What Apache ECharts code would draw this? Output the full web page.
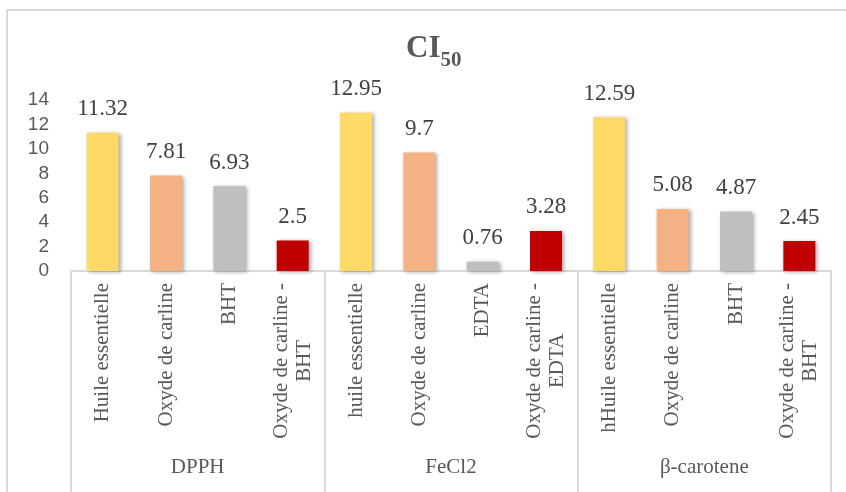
<!DOCTYPE html>
<html>
<head>
<meta charset="utf-8">
<script src="https://cdn.jsdelivr.net/npm/echarts@6/dist/echarts.min.js"></script>
<style>
  html, body { margin: 0; padding: 0; background: #ffffff; }
  #chart { width: 846px; height: 492px; }
</style>
</head>
<body>
<div id="chart"></div>
<script>
// Sample names, one per bar (first axis level)
const categories = [
  'Huile essentielle', 'Oxyde de carline', 'BHT', 'Oxyde de carline -\nBHT',
  'huile essentielle', 'Oxyde de carline', 'EDTA', 'Oxyde de carline -\nEDTA',
  'hHuile essentielle', 'Oxyde de carline', 'BHT', 'Oxyde de carline -\nBHT'
];
// Assay names (second axis level)
const groups = ['DPPH', 'FeCl2', 'β-carotene'];
// IC50 values
const values = [11.32, 7.81, 6.93, 2.5, 12.95, 9.7, 0.76, 3.28, 12.59, 5.08, 4.87, 2.45];
// Value-axis ticks
const yTicks = { min: 0, max: 14, interval: 2 };

// Fill colour by position inside each assay group
const palette = ['#FFD966', '#F4B183', '#BFBFBF', '#C00000'];

const serif = '"Liberation Serif", "Times New Roman", serif';
const sans = '"Liberation Sans", Arial, sans-serif';

const chart = echarts.init(document.getElementById('chart'), null, { renderer: 'canvas' });

const barData = values.map((v, i) => ({
  value: v,
  itemStyle: { color: palette[i % 4] }
}));

chart.setOption({
  animation: false,
  backgroundColor: '#ffffff',
  title: {
    text: '{a|CI}{b|50}',
    left: 406,
    top: 27,
    padding: 0,
    textStyle: {
      rich: {
        a: { fontFamily: serif, fontWeight: 'bold', fontSize: 31, color: '#595959', lineHeight: 44, verticalAlign: 'middle' },
        b: { fontFamily: serif, fontWeight: 'bold', fontSize: 21, color: '#595959', lineHeight: 44, verticalAlign: 'bottom' }
      }
    }
  },
  graphic: [{
    type: 'rect',
    shape: { x: 7, y: 10, width: 900, height: 520 },
    style: { fill: 'none', stroke: '#d9d9d9', lineWidth: 2 },
    silent: true,
    z: 0
  }],
  grid: { left: 71, right: 15, top: 100, height: 171, containLabel: false },
  xAxis: [
    {
      type: 'category',
      data: categories,
      position: 'bottom',
      axisLine: { show: true, lineStyle: { color: '#d9d9d9', width: 2 } },
      axisTick: { show: false },
      axisLabel: {
        interval: 0,
        rotate: 90,
        margin: 12,
        color: '#595959',
        fontFamily: serif,
        fontSize: 21,
        lineHeight: 23,
        formatter: (s) => s.split('\n').map(l => '{c|' + l + '}').join('\n'),
        rich: {
          c: { align: 'center', fontFamily: serif, fontSize: 21, color: '#595959', lineHeight: 23 }
        }
      }
    },
    {
      type: 'category',
      data: groups,
      position: 'bottom',
      offset: 0,
      axisLine: { show: false },
      axisTick: { show: true, length: 230, lineStyle: { color: '#d9d9d9', width: 2 } },
      axisLabel: {
        interval: 0,
        margin: 186,
        color: '#595959',
        fontFamily: serif,
        fontSize: 21
      }
    }
  ],
  yAxis: {
    type: 'value',
    min: yTicks.min,
    max: yTicks.max,
    interval: yTicks.interval,
    axisLine: { show: false },
    axisTick: { show: false },
    splitLine: { show: false },
    axisLabel: { color: '#595959', fontFamily: sans, fontSize: 19, margin: 22 }
  },
  series: [{
    type: 'bar',
    xAxisIndex: 0,
    data: barData,
    barWidth: 32,
    itemStyle: {
      shadowColor: 'rgba(0,0,0,0.35)',
      shadowBlur: 4,
      shadowOffsetX: 2,
      shadowOffsetY: 1
    },
    label: {
      show: true,
      position: 'top',
      distance: 12,
      color: '#404040',
      fontFamily: serif,
      fontSize: 23
    }
  }]
});
</script>
</body>
</html>
